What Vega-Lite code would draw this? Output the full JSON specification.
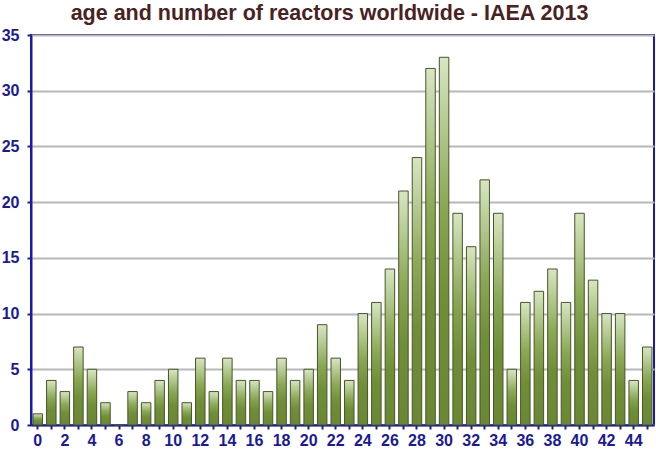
{
  "$schema": "https://vega.github.io/schema/vega-lite/v6.json",
  "width": 623,
  "height": 390,
  "autosize": {"type": "none"},
  "padding": {"left": 31, "top": 35, "right": 2, "bottom": 25},
  "background": "white",
  "title": {
    "text": "age and number of reactors worldwide - IAEA 2013",
    "font": "Liberation Sans",
    "fontSize": 21.5,
    "fontWeight": "bold",
    "color": "#4a2222",
    "anchor": "middle",
    "dx": -13,
    "offset": 3
  },
  "config": {
    "view": {"stroke": "#1a1aaa", "strokeWidth": 2},
    "axis": {
      "labelFont": "Liberation Sans",
      "labelFontWeight": "bold",
      "labelFontSize": 16,
      "labelColor": "#1a1a99",
      "domainColor": "#1a1aaa",
      "domainWidth": 2,
      "tickColor": "#1a1aaa",
      "tickWidth": 2,
      "tickSize": 4
    }
  },
  "data": {
    "values": [
      {"age": 0, "n": 1}, {"age": 1, "n": 4}, {"age": 2, "n": 3}, {"age": 3, "n": 7},
      {"age": 4, "n": 5}, {"age": 5, "n": 2}, {"age": 6, "n": 0}, {"age": 7, "n": 3},
      {"age": 8, "n": 2}, {"age": 9, "n": 4}, {"age": 10, "n": 5}, {"age": 11, "n": 2},
      {"age": 12, "n": 6}, {"age": 13, "n": 3}, {"age": 14, "n": 6}, {"age": 15, "n": 4},
      {"age": 16, "n": 4}, {"age": 17, "n": 3}, {"age": 18, "n": 6}, {"age": 19, "n": 4},
      {"age": 20, "n": 5}, {"age": 21, "n": 9}, {"age": 22, "n": 6}, {"age": 23, "n": 4},
      {"age": 24, "n": 10}, {"age": 25, "n": 11}, {"age": 26, "n": 14}, {"age": 27, "n": 21},
      {"age": 28, "n": 24}, {"age": 29, "n": 32}, {"age": 30, "n": 33}, {"age": 31, "n": 19},
      {"age": 32, "n": 16}, {"age": 33, "n": 22}, {"age": 34, "n": 19}, {"age": 35, "n": 5},
      {"age": 36, "n": 11}, {"age": 37, "n": 12}, {"age": 38, "n": 14}, {"age": 39, "n": 11},
      {"age": 40, "n": 19}, {"age": 41, "n": 13}, {"age": 42, "n": 10}, {"age": 43, "n": 10},
      {"age": 44, "n": 4}, {"age": 45, "n": 7}
    ]
  },
  "mark": {
    "type": "bar",
    "stroke": "#46552a",
    "strokeWidth": 1,
    "fill": {
      "gradient": "linear",
      "x1": 0, "y1": 0, "x2": 0, "y2": 1,
      "stops": [
        {"offset": 0, "color": "#d8e6c2"},
        {"offset": 0.4, "color": "#8ba855"},
        {"offset": 0.65, "color": "#708e38"},
        {"offset": 1, "color": "#6a8834"}
      ]
    }
  },
  "encoding": {
    "x": {
      "field": "age",
      "type": "ordinal",
      "sort": null,
      "scale": {"paddingInner": 0.3, "paddingOuter": 0.15},
      "axis": {
        "title": null,
        "labelAngle": 0,
        "labelOverlap": false,
        "labelPadding": 3,
        "labelExpr": "datum.value % 2 == 0 ? datum.label : ''"
      }
    },
    "y": {
      "field": "n",
      "type": "quantitative",
      "scale": {"domain": [0, 35], "nice": false},
      "axis": {
        "title": null,
        "values": [0, 5, 10, 15, 20, 25, 30, 35],
        "gridColor": "#b8b8b8",
        "gridWidth": 2,
        "labelPadding": 8
      }
    }
  }
}
